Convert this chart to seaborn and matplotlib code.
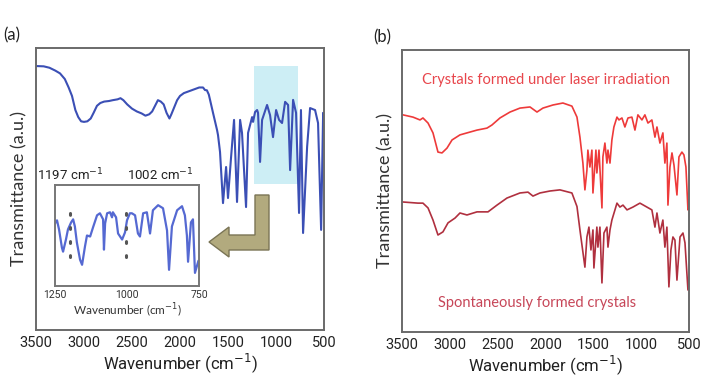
import pandas as pd
import seaborn as sns
import matplotlib.pyplot as plt
from matplotlib.patches import Polygon
from matplotlib.ticker import MultipleLocator

# (a) main spectrum
wn_a = [3500, 3420, 3360, 3300, 3250, 3200, 3160, 3125, 3090, 3060, 3030, 3000, 2965, 2930, 2900,
        2865, 2830, 2790, 2740, 2700, 2650, 2620, 2590, 2550, 2500, 2450, 2400, 2360, 2320, 2290,
        2260, 2230, 2200, 2170, 2140, 2110, 2090, 2060, 2030, 2000, 1960, 1920, 1880, 1840, 1800,
        1760, 1740, 1720, 1700, 1687, 1656, 1614, 1604, 1583, 1552, 1520, 1500, 1468, 1437, 1406,
        1374, 1354, 1312, 1291, 1249, 1239, 1218, 1197, 1187, 1166, 1145, 1135, 1093, 1062, 1031,
        999, 968, 937, 905, 874, 853, 822, 791, 760, 740, 718, 676, 645, 593, 562, 530, 509, 500]
tr_a = [93.6, 93.5, 93.0, 92.0, 91.0, 89.0, 86.0, 83.0, 78.0, 75.5, 74.0, 73.8, 74.0, 75.0, 77.0,
        79.5, 80.5, 81.0, 81.2, 81.5, 81.8, 82.2, 81.5, 80.0, 78.5, 77.5, 76.8, 76.0, 76.5, 77.5,
        79.5, 81.5, 81.0, 80.0, 77.0, 75.0, 76.5, 79.0, 81.5, 83.0, 84.0, 84.5, 85.0, 85.5, 86.0,
        86.0, 85.1, 85.0, 83.5, 81.6, 77.0, 70.9, 69.1, 63.1, 45.0, 57.8, 46.8, 61.3, 74.5, 45.4,
        74.5, 69.9, 43.6, 69.9, 75.5, 73.8, 77.3, 78.0, 77.0, 59.6, 74.5, 75.5, 79.8, 76.2, 68.4,
        78.0, 74.5, 73.4, 80.9, 79.8, 56.7, 81.6, 77.0, 41.5, 78.0, 34.4, 64.9, 78.7, 78.0, 73.4,
        35.5, 77.0, 70.0]

# (a) inset, 1250-750 cm-1
wn_in = [1250, 1243, 1236, 1226, 1222, 1212, 1205, 1194, 1187, 1181, 1174, 1163, 1156, 1146, 1139,
         1128, 1118, 1104, 1094, 1083, 1080, 1076, 1069, 1059, 1052, 1049, 1038, 1031, 1017, 1007,
         1000, 990, 983, 972, 962, 955, 944, 931, 920, 910, 892, 875, 861, 854, 844, 826, 809, 799,
         792, 788, 778, 771, 764, 757, 752]
tr_in = [62, 65, 56, 38, 34, 46, 56, 63, 66, 59, 43, 26, 21, 39, 50,
         49, 58, 70, 72, 66, 36, 62, 72, 73, 68, 73, 68, 52, 46, 53,
         65, 72, 72, 70, 52, 49, 72, 73, 52, 75, 80, 77, 55, 16, 59, 75, 79, 70,
         50, 24, 63, 66, 13, 20, 25]

# (b) laser-irradiation crystals (upper)
wn_up = [3490, 3385, 3312, 3281, 3228, 3176, 3124, 3082, 3030, 2977, 2894, 2821, 2716, 2612, 2560,
         2476, 2371, 2267, 2162, 2089, 2027, 1922, 1818, 1724, 1671, 1640, 1609, 1588, 1567, 1557,
         1536, 1515, 1504, 1473, 1463, 1441, 1410, 1400, 1379, 1358, 1347, 1326, 1306, 1285, 1253,
         1232, 1201, 1170, 1138, 1097, 1065, 1034, 992, 961, 929, 888, 856, 835, 804, 773, 752, 731,
         720, 699, 678, 657, 626, 605, 574, 553, 532, 511, 500]
tr_up = [77.0, 76.2, 75.2, 75.9, 74.1, 70.6, 63.8, 63.5, 65.2, 68.1, 69.9, 70.6, 71.6, 72.3, 73.4,
         75.9, 78.0, 79.4, 79.8, 78.0, 79.4, 80.5, 81.2, 80.1, 76.2, 69.1, 59.9, 50.4, 57.4, 64.5,
         58.5, 64.5, 49.3, 64.5, 56.4, 64.5, 44.0, 62.1, 67.0, 59.9, 64.5, 59.9, 68.1, 72.7, 76.2,
         75.2, 75.9, 72.7, 75.9, 76.2, 71.6, 77.0, 75.2, 77.0, 74.1, 75.2, 69.1, 72.7, 67.0, 70.6, 59.9, 67.0,
         45.0, 58.5, 63.5, 59.2, 48.6, 62.1, 63.8, 62.8, 58.5, 43.3, 46.8]

# (b) spontaneously formed crystals (lower)
wn_lo = [3490, 3333, 3281, 3228, 3176, 3124, 3072, 3019, 2946, 2894, 2821, 2716, 2601, 2507, 2403,
         2267, 2183, 2131, 2058, 1953, 1849, 1724, 1671, 1640, 1588, 1567, 1546, 1525, 1504, 1494,
         1463, 1452, 1431, 1410, 1389, 1358, 1347, 1326, 1306, 1274, 1253, 1222, 1190, 1148, 1086,
         1013, 940, 888, 856, 835, 804, 773, 752, 731, 710, 689, 668, 647, 626, 594, 563, 542, 511, 500]
tr_lo = [46.1, 45.7, 45.7, 44.0, 39.7, 34.4, 35.5, 38.7, 40.4, 42.2, 41.5, 42.6, 42.6, 45.0, 47.5,
         49.3, 49.6, 48.2, 49.3, 50.0, 50.4, 49.3, 44.5, 36.2, 23.0, 33.7, 37.2, 29.1, 36.2, 22.7,
         37.2, 30.1, 37.2, 17.4, 35.1, 37.2, 30.1, 36.2, 39.7, 43.3, 45.7, 44.3, 45.0, 43.3, 44.3,
         45.7, 44.3, 43.3, 37.2, 42.2, 35.1, 39.7, 30.1, 37.2, 16.0, 29.1, 33.7, 32.6, 18.4, 33.7, 35.1, 31.6, 14.9, 18.4]

marked_peaks = [1197, 1002]
main_ticks = [3500, 3000, 2500, 2000, 1500, 1000, 500]
inset_ticks = [1250, 1000, 750]

sns.set_style("white")
plt.rcParams['font.family'] = ['Lato', 'DejaVu Sans']
narrow = ['Roboto', 'DejaVu Sans']

W, H = 716, 378
fig = plt.figure(figsize=(W / 100, H / 100), dpi=100)


def px_rect(x0, y0, x1, y1):
    return [x0 / W, 1 - y1 / H, (x1 - x0) / W, (y1 - y0) / H]


def style_main(ax):
    ax.set_xlim(3500, 500)
    ax.set_ylim(0, 100)
    ax.set_yticks([])
    ax.set_xticks(main_ticks)
    ax.xaxis.set_minor_locator(MultipleLocator(250))
    ax.tick_params(axis='x', which='both', direction='in', length=4, width=1,
                   color='#666666', pad=4, labelsize=10.5, labelcolor='#222222')
    for lab in ax.get_xticklabels():
        lab.set_family(narrow)
    for s in ax.spines.values():
        s.set_color('#6a6a6a')
        s.set_linewidth(1.4)
    ax.set_xlabel("Wavenumber (cm$^{-1}$)", fontsize=12, family=narrow, labelpad=1, color='#222222')
    ax.set_ylabel("Transmittance (a.u.)", fontsize=13, color='#333333', labelpad=6)


# ---- panel (a)
ax_a = fig.add_axes(px_rect(36, 48, 324, 330))
ax_a.axvspan(770, 1230, ymin=0.518, ymax=0.936, color='#cdeef5', zorder=0, lw=0)
df_a = pd.DataFrame({'wn': wn_a, 'T': tr_a})
sns.lineplot(data=df_a, x='wn', y='T', ax=ax_a, color='#3b4fb5', lw=1.5, zorder=2)
style_main(ax_a)

ax_in = fig.add_axes(px_rect(55, 185, 199, 286))
df_in = pd.DataFrame({'wn': wn_in, 'T': tr_in})
sns.lineplot(data=df_in, x='wn', y='T', ax=ax_in, color='#5569d2', lw=1.6)
dots = ax_in.vlines(marked_peaks, 29, 73, colors='#555555', linestyles=(0, (0.6, 4.0)), lw=2.2)
dots.set_capstyle('round')
ax_in.set_xlim(1250, 750)
ax_in.set_ylim(0, 100)
ax_in.set_yticks([])
ax_in.set_xticks(inset_ticks)
ax_in.tick_params(axis='x', direction='in', length=0, pad=3, labelsize=7.5, labelcolor='#333333')
for lab in ax_in.get_xticklabels():
    lab.set_family(narrow)
for s in ax_in.spines.values():
    s.set_color('#777777')
    s.set_linewidth(1.4)
ax_in.set_xlabel("Wavenumber (cm$^{-1}$)", fontsize=8.5, labelpad=1, color='#333333')
ax_in.set_ylabel("")

fig.text(70 / W, 1 - 175 / H, "%d cm$^{-1}$" % marked_peaks[0], ha='center', va='center',
         fontsize=9.5, family=narrow, color='#222222')
fig.text(160 / W, 1 - 175 / H, "%d cm$^{-1}$" % marked_peaks[1], ha='center', va='center',
         fontsize=9.5, family=narrow, color='#222222')

arrow_px = [(255, 195), (269, 195), (269, 250), (229, 250), (229, 257), (209, 242),
            (229, 227), (229, 235), (255, 235)]
fig.patches.append(Polygon([(x / W, 1 - y / H) for x, y in arrow_px], closed=True,
                           transform=fig.transFigure, facecolor='#b2aa7e',
                           edgecolor='#7a7455', lw=1))

fig.text(12 / W, 1 - 35 / H, "(a)", ha='center', va='center', fontsize=12, color='#222222')

# ---- panel (b)
ax_b = fig.add_axes(px_rect(402, 50, 689, 332))
df_b = pd.concat([
    pd.DataFrame({'wn': wn_up, 'T': tr_up, 'sample': 'laser'}),
    pd.DataFrame({'wn': wn_lo, 'T': tr_lo, 'sample': 'spontaneous'}),
])
sns.lineplot(data=df_b, x='wn', y='T', hue='sample', ax=ax_b,
             palette={'laser': '#ee3a3a', 'spontaneous': '#b0303f'}, lw=1.2, legend=False)
style_main(ax_b)
ax_b.text(0.5, 0.893, "Crystals formed under laser irradiation", transform=ax_b.transAxes,
          ha='center', va='center', fontsize=10.5, color='#e8464c')
ax_b.text(0.47, 0.103, "Spontaneously formed crystals", transform=ax_b.transAxes,
          ha='center', va='center', fontsize=10.5, color='#c74658')

fig.text(382 / W, 1 - 37 / H, "(b)", ha='center', va='center', fontsize=12, color='#222222')

fig.savefig('out.png', dpi=100)
